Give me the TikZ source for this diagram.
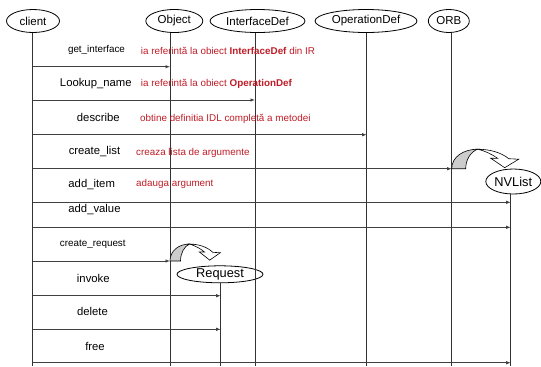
\documentclass[tikz,border=0pt]{standalone}
\usepackage{fontspec}
\setmainfont{Liberation Sans}
\usetikzlibrary{arrows.meta,shapes.geometric}
\definecolor{notered}{RGB}{190,28,38}
\begin{document}
\begin{tikzpicture}[x=1bp,y=-1bp,
  every node/.style={inner sep=0pt, font=\fontsize{11.3bp}{13bp}\selectfont},
  obj/.style={draw, ellipse, line width=0.8bp, minimum height=23bp,
              font=\fontsize{11.5bp}{13bp}\selectfont},
  made/.style={obj, fill=white, font=\fontsize{12.8bp}{14bp}\selectfont},
  life/.style={draw=black!80, line width=0.8bp},
  msg/.style={draw=black!75, line width=0.8bp, -{Latex[length=4.5bp,width=3.5bp]}},
  small/.style={font=\fontsize{9.85bp}{12bp}\selectfont},
  note/.style={small, text=notered, anchor=west},
  curvarrow/.pic={
    % rising part of the band, seen from below
    \filldraw[fill=gray!40, line width=0.6bp]
      (0,0) .. controls (0,-12) and (12,-19.5) .. (26,-19.5)
            .. controls (19,-17) and (14,-9) .. (14,0) -- cycle;
    % falling part of the band with its head
    \filldraw[fill=white, line width=0.6bp]
      (26,-19.5) .. controls (38,-19.5) and (50,-16) .. (57,-10)
      -- (67,-9.5) -- (53,-1) -- (39,-10.5) -- (46,-10.3)
      .. controls (41,-14) and (34,-17.5) .. (26,-19.5) -- cycle;
  },
]
\useasboundingbox (0,0) rectangle (541,366);

% participants
\node[obj, minimum width=53bp]  (client) at (33,21)    {client};
\node[obj, minimum width=57bp]  (object) at (174.3,21) {Object};
\node[obj, minimum width=95bp]  (ifdef)  at (257.5,21) {InterfaceDef};
\node[obj, minimum width=102bp] (opdef)  at (366,21)   {OperationDef};
\node[obj, minimum width=41bp]  (orb)    at (448.8,21) {ORB};

% lifeline positions
\coordinate (xc) at (32.5,0);
\coordinate (xo) at (170,0);
\coordinate (xi) at (255,0);
\coordinate (xd) at (366.7,0);
\coordinate (xr) at (451.7,0);
\coordinate (xn) at (510.7,0);
\coordinate (xq) at (220.7,0);
\coordinate (bot) at (0,366);

% message levels
\coordinate (m1) at (0,66.7);
\coordinate (m2) at (0,100);
\coordinate (m3) at (0,134.7);
\coordinate (m4) at (0,168.7);
\coordinate (m5) at (0,202.3);
\coordinate (m6) at (0,227.3);
\coordinate (m7) at (0,261);
\coordinate (m8) at (0,295.7);
\coordinate (m9) at (0,329.3);
\coordinate (m10) at (0,362.7);

% objects created during the call
\node[made, minimum width=55bp, minimum height=25bp] (nvlist)  at (513.3,181.5) {NVList};
\node[made, minimum width=86bp, minimum height=17bp] (request) at (220,274.3)   {Request};

% lifelines
\draw[life] (client.south -| xc) -- (xc |- bot);
\draw[life] (object.south -| xo) -- (xo |- bot);
\draw[life] (ifdef.south -| xi) -- (xi |- bot);
\draw[life] (opdef.south -| xd) -- (xd |- bot);
\draw[life] (orb.south -| xr) -- (xr |- bot);
\draw[life] (nvlist.south -| xn) -- (xn |- bot);
\draw[life] (request.south -| xq) -- (xq |- bot);

% messages
\draw[msg] (xc |- m1) -- (xo |- m1);
\draw[msg] (xc |- m2) -- (xi |- m2);
\draw[msg] (xc |- m3) -- (xd |- m3);
\draw[msg] (xc |- m4) -- (xr |- m4);
\draw[msg] (xc |- m5) -- (xn |- m5);
\draw[msg] (xc |- m6) -- (xn |- m6);
\draw[msg] (xc |- m7) -- (xo |- m7);
\draw[msg] (xc |- m8) -- (xq |- m8);
\draw[msg] (xc |- m9) -- (xq |- m9);
\draw[msg] (xc |- m10) -- (xn |- m10);

% creation arrows
\pic (mkNV) at (xr |- m4) {curvarrow};
\pic[xscale=0.75, yscale=0.87] (mkRQ) at (xo |- m7) {curvarrow};

% message names
\node[small] (l1) at (96.5,50)   {get\_interface};
\node        (l2) at (95.8,84)   {Lookup\_name};
\node        (l3) at (98.3,117.3) {describe};
\node        (l4) at (94.5,151.7) {create\_list};
\node        (l5) at (91.7,185)  {add\_item};
\node        (l6) at (94.5,210)  {add\_value};
\node[small] (l7) at (92.8,244)  {create\_request};
\node        (l8) at (93.3,278.3) {invoke};
\node        (l9) at (92.5,311.7) {delete};
\node        (l10) at (95,346)   {free};

% explanations
\node[note] (n1) at (140.7,51)   {ia referintă la obiect \textbf{InterfaceDef} din IR};
\node[note] (n2) at (140.7,84.3) {ia referintă la obiect \textbf{OperationDef}};
\node[note] (n3) at (140,119)    {obtine definitia IDL completă a metodei};
\node[note] (n4) at (136,152.7)  {creaza lista de argumente};
\node[note] (n5) at (136,184.3)  {adauga argument};
\end{tikzpicture}
\end{document}
